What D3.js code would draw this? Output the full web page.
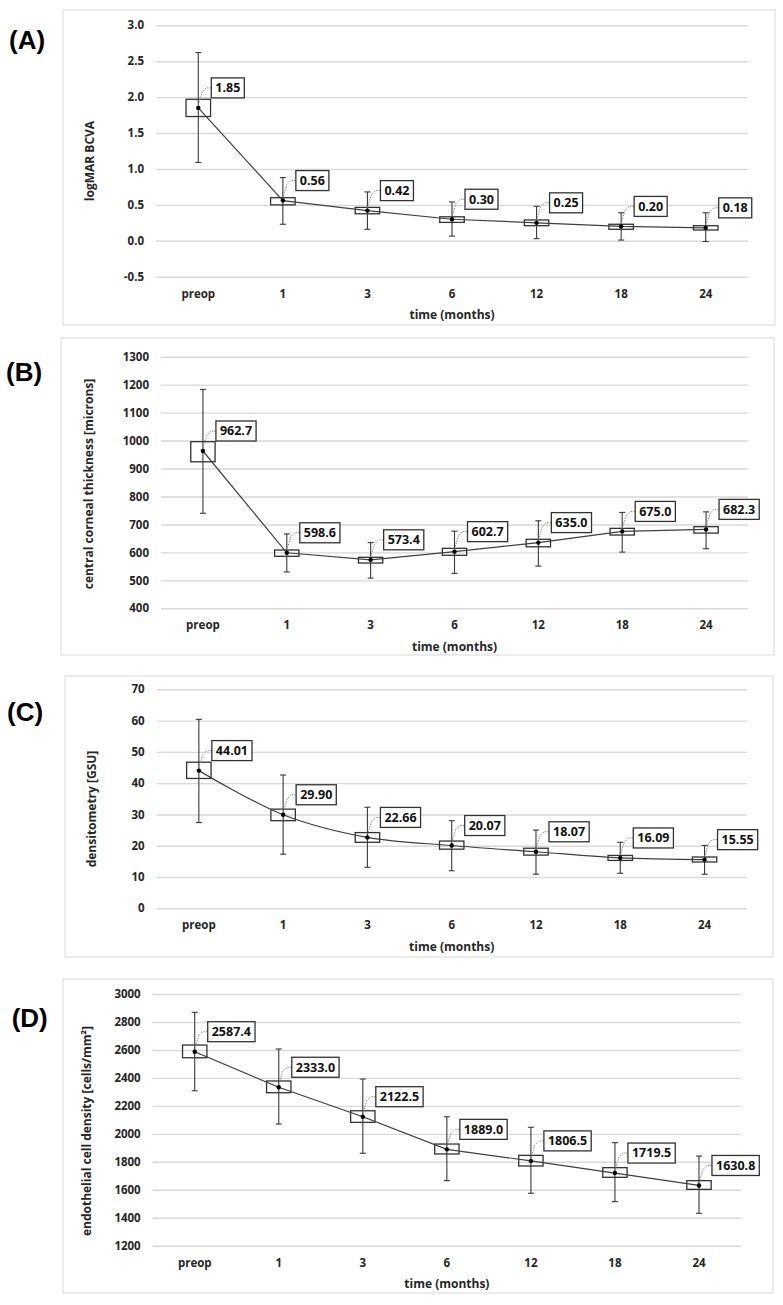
<!DOCTYPE html>
<html>
<head>
<meta charset="utf-8">
<script src="https://cdn.jsdelivr.net/npm/d3@7"></script>
<style>
  body { margin: 0; background: #fff; }
  svg { display: block; }
  .tick text { font-family: "Open Sans", sans-serif; font-weight: 700; font-size: 11.5px; fill: #262626; }
</style>
</head>
<body>
<svg id="chart" width="783" height="1305"></svg>
<script>
// ---------- data ----------
const categories = ["preop", "1", "3", "6", "12", "18", "24"];

// (A) logMAR BCVA
const bcvaMean    = [1.85, 0.56, 0.42, 0.30, 0.25, 0.20, 0.18];
const bcvaBoxHigh = [1.97, 0.60, 0.465, 0.334, 0.29, 0.23, 0.21];
const bcvaBoxLow  = [1.73, 0.50, 0.376, 0.256, 0.21, 0.16, 0.15];
const bcvaErrHigh = [2.62, 0.88, 0.68, 0.54, 0.48, 0.39, 0.39];
const bcvaErrLow  = [1.09, 0.23, 0.16, 0.065, 0.03, 0.01, -0.01];
const bcvaTicks   = [-0.5, 0, 0.5, 1, 1.5, 2, 2.5, 3];
const bcvaTickLabels = ["-0.5", "0.0", "0.5", "1.0", "1.5", "2.0", "2.5", "3.0"];

// (B) central corneal thickness
const cctMean    = [962.7, 598.6, 573.4, 602.7, 635.0, 675.0, 682.3];
const cctBoxHigh = [996, 608.5, 582.4, 614.6, 646.8, 686, 692];
const cctBoxLow  = [924, 586, 562, 589.6, 620, 662, 669];
const cctErrHigh = [1183, 666, 635, 676, 713, 743, 745];
const cctErrLow  = [740, 530, 508, 525, 551, 601, 613];
const cctTicks   = [400, 500, 600, 700, 800, 900, 1000, 1100, 1200, 1300];
const cctTickLabels = ["400", "500", "600", "700", "800", "900", "1000", "1100", "1200", "1300"];

// (C) densitometry
const densMean    = [44.01, 29.90, 22.66, 20.07, 18.07, 16.09, 15.55];
const densBoxHigh = [46.7, 31.7, 24.2, 21.5, 19.2, 16.9, 16.4];
const densBoxLow  = [41.5, 28.0, 21.1, 18.9, 17.0, 15.3, 14.8];
const densErrHigh = [60.4, 42.6, 32.3, 28.0, 25.0, 21.1, 20.1];
const densErrLow  = [27.4, 17.3, 13.1, 12.0, 10.9, 11.2, 10.9];
const densTicks   = [0, 10, 20, 30, 40, 50, 60, 70];
const densTickLabels = ["0", "10", "20", "30", "40", "50", "60", "70"];

// (D) endothelial cell density
const ecdMean    = [2587.4, 2333.0, 2122.5, 1889.0, 1806.5, 1719.5, 1630.8];
const ecdBoxHigh = [2635, 2378, 2165, 1927, 1846, 1758, 1665];
const ecdBoxLow  = [2544, 2294, 2082, 1856, 1770, 1689, 1603];
const ecdErrHigh = [2869, 2607, 2392, 2122, 2047, 1937, 1841];
const ecdErrLow  = [2308, 2070, 1861, 1665, 1575, 1515, 1432];
const ecdTicks   = [1200, 1400, 1600, 1800, 2000, 2200, 2400, 2600, 2800, 3000];
const ecdTickLabels = ["1200", "1400", "1600", "1800", "2000", "2200", "2400", "2600", "2800", "3000"];

const panelLetters = ["(A)", "(B)", "(C)", "(D)"];
const yTitles = ["logMAR BCVA", "central corneal thickness [microns]", "densitometry [GSU]", "endothelial cell density [cells/mm\u00B2]"];
const xTitle = "time (months)";

// ---------- layout (separate from data) ----------
const layouts = [
  { frame: [63, 10, 775, 325],   plot: [156, 25.3, 748, 276.7],   letter: [9, 40],    ytitle: [90, 161] },
  { frame: [61, 338, 774, 655],  plot: [161, 356.7, 748, 608.3],  letter: [6, 372],    ytitle: [89, 484] },
  { frame: [65, 676, 773, 957],  plot: [156.7, 689.3, 746.7, 908.3], letter: [7, 712], ytitle: [91.7, 809] },
  { frame: [63, 979, 773, 1293], plot: [152.7, 994, 741, 1245.7], letter: [11.7, 1018], ytitle: [87, 1131] }
];

const panels = [
  { mean: bcvaMean, boxHigh: bcvaBoxHigh, boxLow: bcvaBoxLow, errHigh: bcvaErrHigh, errLow: bcvaErrLow,
    ticks: bcvaTicks, tickLabels: bcvaTickLabels, fmt: d3.format(".2f"), curve: d3.curveLinear },
  { mean: cctMean, boxHigh: cctBoxHigh, boxLow: cctBoxLow, errHigh: cctErrHigh, errLow: cctErrLow,
    ticks: cctTicks, tickLabels: cctTickLabels, fmt: d3.format(".1f"), curve: d3.curveLinear },
  { mean: densMean, boxHigh: densBoxHigh, boxLow: densBoxLow, errHigh: densErrHigh, errLow: densErrLow,
    ticks: densTicks, tickLabels: densTickLabels, fmt: d3.format(".2f"), curve: d3.curveCatmullRom },
  { mean: ecdMean, boxHigh: ecdBoxHigh, boxLow: ecdBoxLow, errHigh: ecdErrHigh, errLow: ecdErrLow,
    ticks: ecdTicks, tickLabels: ecdTickLabels, fmt: d3.format(".1f"), curve: d3.curveLinear }
];

const svg = d3.select("#chart");
const FONT = "'Open Sans', sans-serif";

panels.forEach((p, pi) => {
  const L = layouts[pi];
  const [fx0, fy0, fx1, fy1] = L.frame;
  const [left, top, right, bottom] = L.plot;
  const g = svg.append("g");

  // frame
  g.append("rect").attr("x", fx0).attr("y", fy0).attr("width", fx1 - fx0).attr("height", fy1 - fy0)
    .attr("fill", "#fff").attr("stroke", "#d9d9d9").attr("stroke-width", 1);

  const x = d3.scaleBand().domain(categories).range([left, right]);
  const y = d3.scaleLinear().domain(d3.extent(p.ticks)).range([bottom, top]);
  const cx = i => x(categories[i]) + x.bandwidth() / 2;
  const boxW = x.bandwidth() * 0.29;

  // y axis + gridlines
  g.append("g").attr("transform", `translate(${left},0)`)
    .call(d3.axisLeft(y).tickValues(p.ticks).tickFormat((d, i) => p.tickLabels[i])
      .tickSize(-(right - left)).tickPadding(12))
    .call(a => a.select(".domain").remove())
    .call(a => a.selectAll(".tick line").attr("stroke", "#d9d9d9").attr("stroke-width", 1.4));

  // x axis
  g.append("g").attr("transform", `translate(0,${bottom})`)
    .call(d3.axisBottom(x).tickSize(0).tickPadding(13))
    .call(a => a.select(".domain").remove());

  // axis titles
  g.append("text").attr("x", (left + right) / 2).attr("y", bottom + 38).attr("dy", "0.35em")
    .attr("text-anchor", "middle").attr("font-family", FONT).attr("font-weight", 700)
    .attr("font-size", 12).attr("fill", "#262626").text(xTitle);
  g.append("text").attr("transform", `translate(${L.ytitle[0]},${L.ytitle[1]}) rotate(-90)`)
    .attr("dy", "0.35em").attr("text-anchor", "middle").attr("font-family", FONT)
    .attr("font-weight", 700).attr("font-size", 12).attr("fill", "#262626").text(yTitles[pi]);

  // panel letter
  g.append("text").attr("x", L.letter[0]).attr("y", L.letter[1]).attr("dy", "0.35em")
    .attr("font-family", "'Liberation Sans', Arial, sans-serif").attr("font-weight", 700)
    .attr("font-size", 26).attr("fill", "#000").text(panelLetters[pi]);

  const idx = d3.range(categories.length);

  // boxes
  g.selectAll(".box").data(idx).join("rect")
    .attr("x", i => cx(i) - boxW / 2).attr("y", i => y(p.boxHigh[i]))
    .attr("width", boxW).attr("height", i => y(p.boxLow[i]) - y(p.boxHigh[i]))
    .attr("fill", "none").attr("stroke", "#333").attr("stroke-width", 1.3);

  // error bars
  const eb = g.selectAll(".eb").data(idx).join("g").attr("stroke", "#3a3a3a").attr("stroke-width", 1.1);
  eb.append("line").attr("x1", cx).attr("x2", cx).attr("y1", i => y(p.errLow[i])).attr("y2", i => y(p.errHigh[i]));
  eb.append("line").attr("x1", i => cx(i) - 3).attr("x2", i => cx(i) + 3).attr("y1", i => y(p.errHigh[i])).attr("y2", i => y(p.errHigh[i]));
  eb.append("line").attr("x1", i => cx(i) - 3).attr("x2", i => cx(i) + 3).attr("y1", i => y(p.errLow[i])).attr("y2", i => y(p.errLow[i]));

  // connecting line
  g.append("path").datum(idx)
    .attr("d", d3.line().x(cx).y(i => y(p.mean[i])).curve(p.curve))
    .attr("fill", "none").attr("stroke", "#404040").attr("stroke-width", 1.2);

  // points
  g.selectAll(".pt").data(idx).join("circle")
    .attr("cx", cx).attr("cy", i => y(p.mean[i])).attr("r", 2.2).attr("fill", "#000");

  // value labels
  const lab = g.selectAll(".lab").data(idx).join("g")
    .attr("transform", i => `translate(${cx(i)},${y(p.mean[i])})`);
  lab.append("path").attr("d", "M0,-3 L4,-16 L8,-20 L13,-20")
    .attr("fill", "none").attr("stroke", "#7f7f7f").attr("stroke-width", 1).attr("stroke-dasharray", "1.2,1.3");
  lab.append("rect").attr("fill", "#fff").attr("stroke", "#333").attr("stroke-width", 1.3);
  const texts = lab.append("text").attr("font-family", FONT).attr("font-weight", 700).attr("font-size", 12.5)
    .attr("fill", "#111").attr("dy", "0.35em").attr("y", -20).text(i => p.fmt(p.mean[i]));
  texts.each(function () {
    const w = this.getComputedTextLength();
    d3.select(this).attr("x", 13 + 4);
    d3.select(this.previousSibling).attr("x", 13).attr("y", -30).attr("width", w + 8).attr("height", 20);
  });
});
</script>
</body>
</html>
